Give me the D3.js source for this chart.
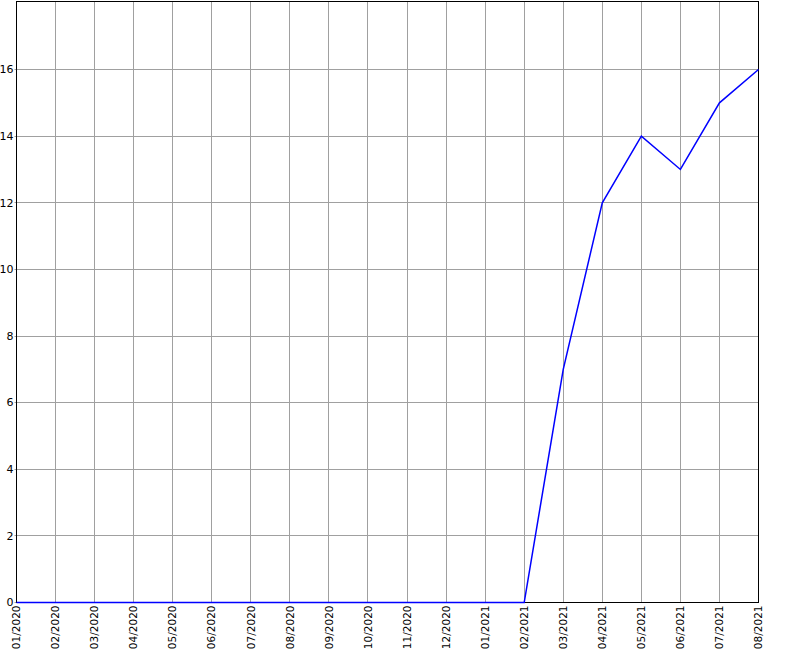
<!DOCTYPE html>
<html><head><meta charset="utf-8">
<script src="https://cdn.jsdelivr.net/npm/d3@7"></script>
<style>body{margin:0;background:#fff}svg{display:block}</style>
</head><body>
<svg id="c" width="800" height="650"></svg>
<script>
const months = ["01/2020","02/2020","03/2020","04/2020","05/2020","06/2020","07/2020","08/2020","09/2020","10/2020","11/2020","12/2020","01/2021","02/2021","03/2021","04/2021","05/2021","06/2021","07/2021","08/2021"];
const values = [0,0,0,0,0,0,0,0,0,0,0,0,0,0,7,12,14,13,15,16];
const yTicks = [0,2,4,6,8,10,12,14,16];
const yMax = 18;

const svg = d3.select("#c");
const m = {left:16.5, right:758.5, top:1.5, bottom:602.5};
const x = d3.scalePoint().domain(months).range([m.left, m.right]);
const y = d3.scaleLinear().domain([0, yMax]).range([m.bottom, 2.9]);
const font = "'DejaVu Sans', sans-serif";

// grid
svg.append("g").selectAll("line").data(months).join("line")
  .attr("x1", d=>Math.round(x(d)-0.5)+0.5).attr("x2", d=>Math.round(x(d)-0.5)+0.5).attr("y1", m.top).attr("y2", m.bottom)
  .attr("stroke", "#a0a0a0").attr("stroke-width", 1);
svg.append("g").selectAll("line").data(yTicks).join("line")
  .attr("x1", m.left-2).attr("x2", m.right).attr("y1", d=>Math.round(y(d)-0.5)+0.5).attr("y2", d=>Math.round(y(d)-0.5)+0.5)
  .attr("stroke", "#a0a0a0").attr("stroke-width", 1);

// frame
svg.append("rect").attr("x", m.left).attr("y", m.top).attr("width", m.right-m.left).attr("height", m.bottom-m.top)
  .attr("fill", "none").attr("stroke", "#000").attr("stroke-width", 1);

// y labels
svg.append("g").selectAll("text").data(yTicks).join("text")
  .attr("x", m.left-3).attr("y", d=>y(d)).attr("dy", "0.35em")
  .attr("text-anchor", "end").attr("font-family", font).attr("font-size", 11)
  .text(d=>d);

// x labels
svg.append("g").selectAll("text").data(months).join("text")
  .attr("transform", d=>`translate(${x(d)},${m.bottom+3}) rotate(-90)`)
  .attr("dy", "0.35em")
  .attr("text-anchor", "end").attr("font-family", font).attr("font-size", 10.5)
  .text(d=>d);

// line
const line = d3.line().x((d,i)=>x(months[i])).y(d=>y(d));
svg.append("path").datum(values).attr("d", line)
  .attr("fill", "none").attr("stroke", "#0000ff").attr("stroke-width", 1.5);
</script>
</body></html>
